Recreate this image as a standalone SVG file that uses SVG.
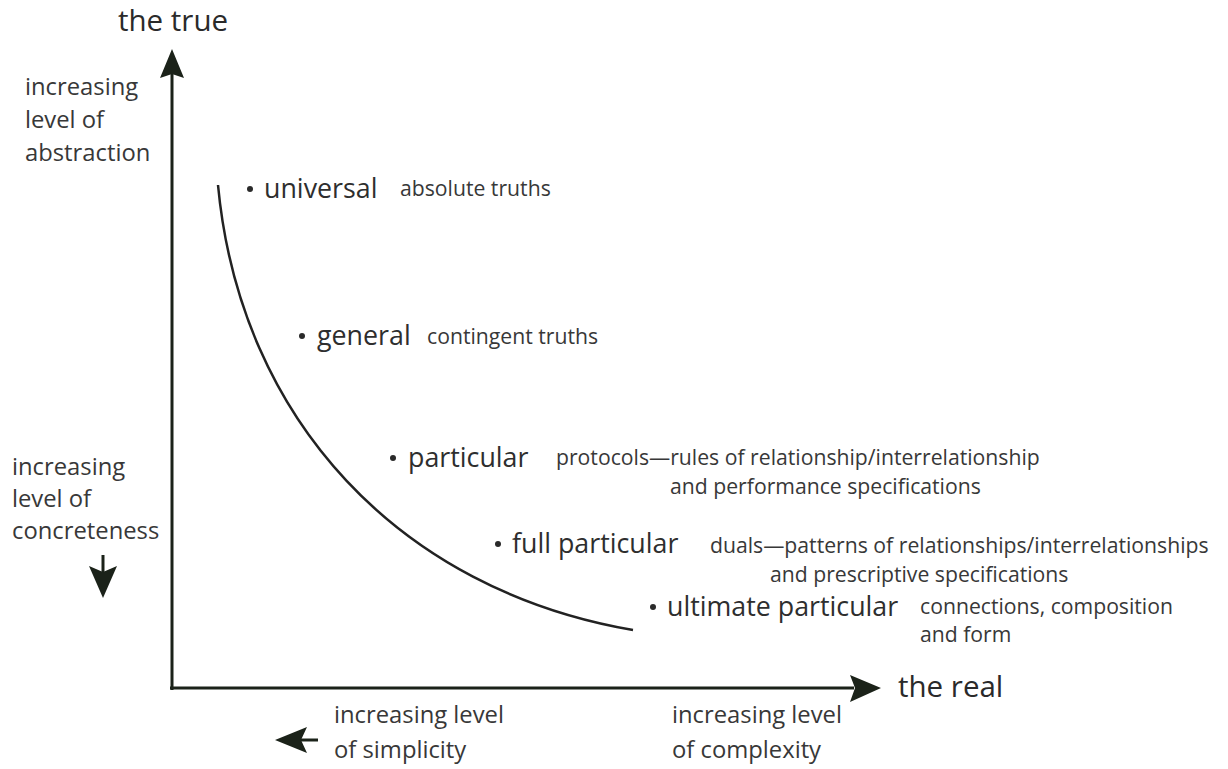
<svg xmlns="http://www.w3.org/2000/svg" width="1228" height="769" viewBox="0 0 1228 769">
  <style>
    text { font-family: "Open Sans", "Noto Sans", sans-serif; fill: #383838; }
    .axis-title { font-size: 29.5px; fill: #2a2a2a; }
    .side { font-size: 23.8px; }
    .level { font-size: 26.8px; fill: #2e2e2e; }
    .note { font-size: 21.2px; }
    .axis { stroke: #1b2219; stroke-width: 3; fill: none; }
    .curve { stroke: #222; stroke-width: 2.5; fill: none; }
    .head { fill: #1b2219; }
    .dot { fill: #2a2a2a; }
  </style>

  <!-- axes, value curve and direction arrows -->
  <g id="connectors">
    <line class="axis" x1="172" y1="690" x2="172" y2="74"/>
    <polygon class="head" points="172,49 184,78 172,74 160,78"/>
    <line class="axis" x1="170" y1="688" x2="854" y2="688"/>
    <polygon class="head" points="881,688 850,675 855,688 850,702"/>
    <path class="curve" d="M218,185 C240,420 400,590 633,630"/>
    <!-- down arrow: increasing concreteness -->
    <line class="axis" x1="103" y1="555" x2="103" y2="575" stroke-width="5"/>
    <polygon class="head" points="103,598 89,566 103,572 117,566"/>
    <!-- left arrow: increasing simplicity -->
    <line class="axis" x1="298" y1="740" x2="318" y2="740" stroke-width="5"/>
    <polygon class="head" points="275,740 307,727 301,740 307,753"/>
  </g>

  <g id="axis-true">
    <text class="axis-title" x="118" y="31">the true</text>
  </g>
  <g id="axis-real">
    <text class="axis-title" x="898" y="697">the real</text>
  </g>

  <g id="abstraction">
    <text class="side" x="25" y="95">increasing</text>
    <text class="side" x="25" y="128">level of</text>
    <text class="side" x="25" y="161">abstraction</text>
  </g>
  <g id="concreteness">
    <text class="side" x="12" y="475">increasing</text>
    <text class="side" x="12" y="507">level of</text>
    <text class="side" x="12" y="539">concreteness</text>
  </g>
  <g id="simplicity">
    <text class="side" x="334" y="723">increasing level</text>
    <text class="side" x="334" y="758">of simplicity</text>
  </g>
  <g id="complexity">
    <text class="side" x="672" y="723">increasing level</text>
    <text class="side" x="672" y="758">of complexity</text>
  </g>

  <g id="universal">
    <circle class="dot" cx="250" cy="189" r="3"/>
    <text class="level" x="264" y="198">universal</text>
    <text class="note" x="400" y="196">absolute truths</text>
  </g>
  <g id="general">
    <circle class="dot" cx="302" cy="336" r="3"/>
    <text class="level" x="317" y="345">general</text>
    <text class="note" x="427" y="344">contingent truths</text>
  </g>
  <g id="particular">
    <circle class="dot" cx="393" cy="458" r="3"/>
    <text class="level" x="408" y="467">particular</text>
    <text class="note" x="556" y="465">protocols—rules of relationship/interrelationship</text>
    <text class="note" x="670" y="494">and performance specifications</text>
  </g>
  <g id="full-particular">
    <circle class="dot" cx="498" cy="544" r="3"/>
    <text class="level" x="512" y="553">full particular</text>
    <text class="note" x="710" y="553">duals—patterns of relationships/interrelationships</text>
    <text class="note" x="770" y="582">and prescriptive specifications</text>
  </g>
  <g id="ultimate-particular">
    <circle class="dot" cx="653" cy="607" r="3"/>
    <text class="level" x="667" y="616">ultimate particular</text>
    <text class="note" x="920" y="614">connections, composition</text>
    <text class="note" x="920" y="642">and form</text>
  </g>
</svg>
